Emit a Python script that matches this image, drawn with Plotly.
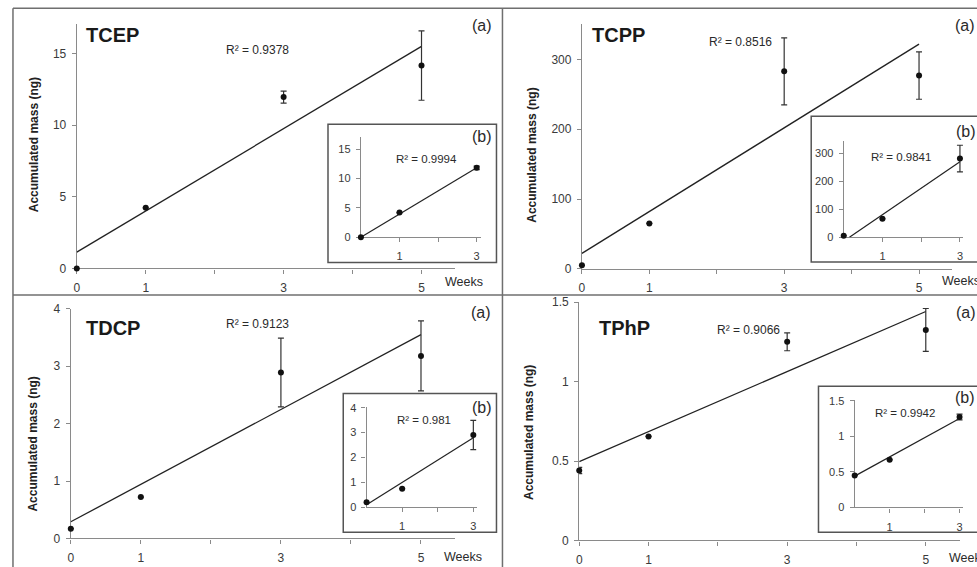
import plotly.graph_objects as go

W, H = 977, 567
# the page view shifts the plot down by ~7.8 px and shrinks it vertically
# (factor ~0.9726); vertical positions below are given in final picture
# pixels and converted back to figure pixels with this mapping
VIEW_OFF = 7.78
VIEW_SCALE = 0.9726

# ---- data -------------------------------------------------------------
compounds = ["TCEP", "TCPP", "TDCP", "TPhP"]

weeks_main = [0, 1, 3, 5]
weeks_inset = [0, 1, 3]

# main panels (a): mean accumulated mass and error
tcep_main = [0, 4.23, 11.95, 14.15]
tcep_main_err = [0, 0, 0.42, 2.42]
tcpp_main = [5, 65, 283, 277]
tcpp_main_err = [0, 0, 48, 34]
tdcp_main = [0.17, 0.72, 2.89, 3.18]
tdcp_main_err = [0, 0, 0.6, 0.61]
tphp_main = [0.44, 0.655, 1.25, 1.325]
tphp_main_err = [0.02, 0, 0.056, 0.135]

# insets (b): first three weeks only
tcep_inset = [0, 4.2, 11.85]
tcep_inset_err = [0, 0, 0.3]
tcpp_inset = [5, 66, 282]
tcpp_inset_err = [0, 0, 48]
tdcp_inset = [0.19, 0.74, 2.9]
tdcp_inset_err = [0, 0, 0.59]
tphp_inset = [0.45, 0.67, 1.27]
tphp_inset_err = [0, 0, 0.04]

# linear fits: (intercept, slope) and R²
fit_main = [(1.14, 2.87), (22, 60), (0.29, 0.652), (0.496, 0.189)]
r2_main = ["0.9378", "0.8516", "0.9123", "0.9066"]
fit_inset = [(0, 3.95), (-14, 95), (0.09, 0.9), (0.44, 0.27)]
r2_inset = ["0.9994", "0.9841", "0.981", "0.9942"]

main_vals = [tcep_main, tcpp_main, tdcp_main, tphp_main]
main_errs = [tcep_main_err, tcpp_main_err, tdcp_main_err, tphp_main_err]
inset_vals = [tcep_inset, tcpp_inset, tdcp_inset, tphp_inset]
inset_errs = [tcep_inset_err, tcpp_inset_err, tdcp_inset_err, tphp_inset_err]

main_yticks = [[0, 5, 10, 15], [0, 100, 200, 300], [0, 1, 2, 3, 4], [0, 0.5, 1, 1.5]]
inset_yticks = [[0, 5, 10, 15], [0, 100, 200, 300], [0, 1, 2, 3, 4], [0, 0.5, 1, 1.5]]
main_xtick_vals = [0, 1, 2, 3, 4, 5]
main_xtick_text = ["0", "1", "", "3", "", "5"]
inset_xtick_vals = [1, 2, 3]
inset_xtick_text = ["1", "", "3"]

# ---- layout geometry (pixels) -----------------------------------------
# main axes: (x of y-axis, x end of x-axis, y of zero line, y top of y-axis, xmax, ymax)
main_geom = [
    (74, 453, 269, 25, 5.48, 17.03),
    (580.7, 952, 269.3, 25, 5.49, 350.5),
    (68, 453, 538.7, 309.3, 5.48, 4.0),
    (578, 959.7, 540.7, 302, 5.49, 1.504),
]
# inset axes
inset_geom = [
    (359, 479, 237.7, 138, 3.1, 17.05),
    (843.3, 963, 237.7, 141.7, 3.08, 345),
    (364.7, 475, 507.3, 407.3, 3.09, 4.03),
    (854.3, 963, 507.7, 400, 3.1, 1.515),
]
# inset frames: (x0, y0, x1, y1)
inset_boxes = [(326, 125, 495, 263), (810.7, 117, 985, 262.5),
               (341.3, 394, 495, 532.5), (818, 386.7, 985, 532.5)]

FONT = "Liberation Sans, Arial, sans-serif"
AX_COL = "#8a8a8a"
TXT_COL = "#3a3a3a"


def px(x):
    return x / W


def py(y):
    return 1 - ((y - VIEW_OFF) / VIEW_SCALE) / H


fig = go.Figure()
layout = {}
annotations = []
shapes = []


def add_axes(idx, geom, yticks, xvals, xtext, fsize, standoff_x):
    x0, x1, y0, y1, xmax, ymax = geom
    xa = "xaxis" if idx == 1 else f"xaxis{idx}"
    ya = "yaxis" if idx == 1 else f"yaxis{idx}"
    common = dict(showline=True, linecolor=AX_COL, linewidth=1.2, ticks="outside",
                  tickcolor=AX_COL, ticklen=4, tickwidth=1, showgrid=False, zeroline=False,
                  tickfont=dict(family=FONT, size=fsize, color=TXT_COL), fixedrange=True,
                  layer="below traces")
    layout[xa] = dict(common, domain=[px(x0), px(x1)], range=[0, xmax],
                      anchor=f"y{idx}" if idx > 1 else "y",
                      tickmode="array", tickvals=xvals, ticktext=xtext,
                      ticklabelstandoff=standoff_x)
    layout[ya] = dict(common, domain=[py(y0), py(y1)], range=[0, ymax],
                      anchor=f"x{idx}" if idx > 1 else "x",
                      tickmode="array", tickvals=yticks,
                      ticktext=[f"{v:g}" for v in yticks], ticklabelstandoff=3)


def add_series(idx, xs, ys, errs, fit, x_end, lw, msize):
    xr = "x" if idx == 1 else f"x{idx}"
    yr = "y" if idx == 1 else f"y{idx}"
    b, m = fit
    xs0 = max(0.0, -b / m)
    fig.add_trace(go.Scatter(x=[xs0, x_end], y=[b + m * xs0, b + m * x_end], mode="lines",
                             line=dict(color="#222222", width=lw), xaxis=xr, yaxis=yr,
                             showlegend=False, cliponaxis=False, hoverinfo="skip"))
    fig.add_trace(go.Scatter(x=xs, y=ys, mode="markers",
                             marker=dict(color="#111111", size=msize),
                             error_y=dict(type="data", array=errs, visible=True,
                                          color="#333333", thickness=1.2, width=3),
                             xaxis=xr, yaxis=yr, showlegend=False, cliponaxis=False))


for i in range(4):
    # main panel
    add_axes(i + 1, main_geom[i], main_yticks[i], main_xtick_vals, main_xtick_text, 12, 4)
    add_series(i + 1, weeks_main, main_vals[i], main_errs[i], fit_main[i], 5, 1.3, 6)

for i in range(4):
    # inset frame under the inset axes
    bx0, by0, bx1, by1 = inset_boxes[i]
    shapes.append(dict(type="rect", xref="paper", yref="paper",
                       x0=px(bx0), x1=px(bx1), y0=py(by1), y1=py(by0),
                       line=dict(color="#555555", width=1.5), fillcolor="white", layer="below"))
    add_axes(i + 5, inset_geom[i], inset_yticks[i], inset_xtick_vals, inset_xtick_text, 11, 5)
    add_series(i + 5, weeks_inset, inset_vals[i], inset_errs[i], fit_inset[i], 3, 1.2, 6)

# ---- outer frame and dividers ------------------------------------------
FRAME = dict(color="#6f6f6f", width=1.5)
for (x0, y0, x1, y1) in [(10, 9, 977, 9), (10, 9, 10, 575), (501, 9, 501, 575), (10, 295.5, 977, 295.5)]:
    shapes.append(dict(type="line", xref="paper", yref="paper",
                       x0=px(x0), x1=px(x1), y0=py(y0), y1=py(y1), line=FRAME))


def text(x, y, s, size, bold=False, xanchor="center", angle=0, color="#222222"):
    annotations.append(dict(x=px(x), y=py(y), xref="paper", yref="paper", text=s,
                            showarrow=False, xanchor=xanchor, yanchor="middle",
                            textangle=angle,
                            font=dict(family=FONT, size=size, color=color,
                                      weight="bold" if bold else "normal")))


# compound names
name_pos = [(81, 36), (589, 36), (81, 328), (596, 328)]
for (x, y), name in zip(name_pos, compounds):
    text(x, y, name, 20, bold=True, xanchor="left", color="#1a1a1a")

# R² labels
r2_main_pos = [(255, 51), (740, 43), (255, 324), (748, 330)]
for (x, y), r in zip(r2_main_pos, r2_main):
    text(x, y, f"R² = {r}", 12, color="#2a2a2a")
r2_inset_pos = [(425, 160), (901, 158), (422, 420), (905, 413)]
for (x, y), r in zip(r2_inset_pos, r2_inset):
    text(x, y, f"R² = {r}", 11.5, color="#2a2a2a")

# panel letters
for (x, y) in [(480, 26), (965, 26), (479, 313), (966, 313)]:
    text(x, y, "(a)", 16, color="#2a2a2a")
for (x, y) in [(480, 137), (966, 132), (480, 408), (965, 398)]:
    text(x, y, "(b)", 16, color="#2a2a2a")

# axis titles
for (x, y) in [(462, 283), (961, 282), (461, 557), (968, 558)]:
    text(x, y, "Weeks", 12.5, color="#2a2a2a")
for (x, y) in [(31, 145), (531, 156), (30, 444), (527, 433)]:
    text(x, y, "Accumulated mass (ng)", 12, bold=True, angle=-90, color="#222222")

fig.update_layout(width=W, height=H, margin=dict(l=0, r=0, t=0, b=0),
                  paper_bgcolor="white", plot_bgcolor="rgba(0,0,0,0)",
                  annotations=annotations, shapes=shapes, **layout)

fig.write_html("out.html")
